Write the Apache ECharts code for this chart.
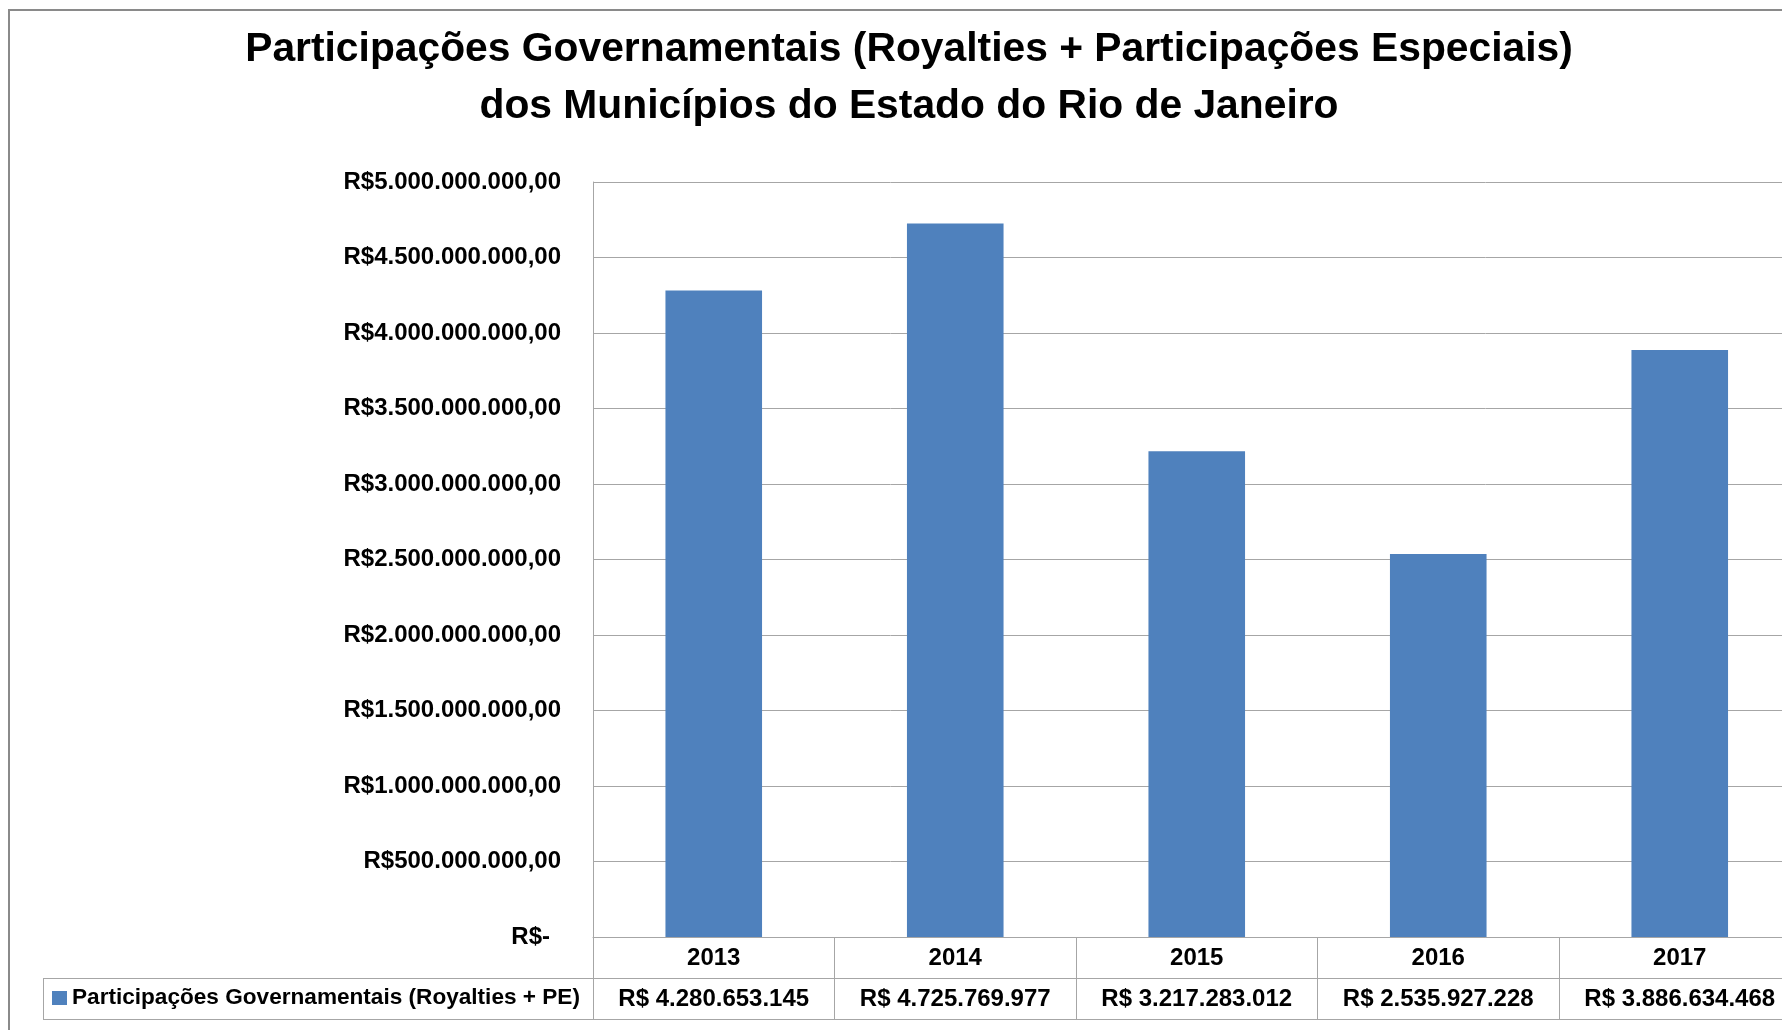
<!DOCTYPE html>
<html>
<head>
<meta charset="utf-8">
<script src="https://cdn.jsdelivr.net/npm/echarts@6/dist/echarts.min.js"></script>
<style>
  html, body { margin: 0; padding: 0; background: #fff; }
  #chart { width: 1782px; height: 1030px; }
</style>
</head>
<body>
<div id="chart"></div>
<script>
// Data
const titleLines = [
  'Participações Governamentais (Royalties + Participações Especiais)',
  'dos Municípios do Estado do Rio de Janeiro'
];
const seriesName = 'Participações Governamentais (Royalties + PE)';
const years = ['2013', '2014', '2015', '2016', '2017'];
const values = [4280653145, 4725769977, 3217283012, 2535927228, 3886634468];
const yMin = 0;
const yMax = 5000000000;
const yStep = 500000000;

// Layout
const FONT = "'Liberation Sans', Arial, sans-serif";
const GRID = { left: 593, top: 182, width: 1207.5, height: 755 };
const ROW = 41;            // height of each data-table row
const TABLE_LEFT = 43;     // left edge of the legend cell
const LINE = '#a6a6a6';
const BAR = '#4f81bd';

function groupThousands(n) {
  return String(Math.round(n)).replace(/\B(?=(\d{3})+(?!\d))/g, '.');
}
function yLabel(v) {
  if (v === 0) return '{z|R$-}';
  return 'R$' + groupThousands(v) + ',00';
}

const chart = echarts.init(document.getElementById('chart'));
const axisBottom = GRID.top + GRID.height;

chart.setOption({
  animation: false,
  backgroundColor: '#fff',
  title: {
    text: titleLines.join('\n'),
    left: 909,
    top: 21.5,
    padding: 0,
    textAlign: 'center',
    textStyle: { fontFamily: FONT, fontWeight: 'bold', fontSize: 40.8, lineHeight: 57, color: '#000' }
  },
  legend: {
    data: [seriesName],
    left: 52,
    top: axisBottom + ROW + ROW / 2 - 12,
    padding: 0,
    icon: 'rect',
    itemWidth: 15,
    itemHeight: 14,
    textStyle: { fontFamily: FONT, fontWeight: 'bold', fontSize: 22.6, color: '#000' }
  },
  grid: {
    left: GRID.left, top: GRID.top, width: GRID.width, height: GRID.height,
    containLabel: false,
    outerBoundsMode: 'none'
  },
  xAxis: [
    {
      type: 'category',
      data: years,
      position: 'bottom',
      axisLine: { show: true, lineStyle: { color: LINE, width: 1 } },
      axisTick: { show: true, interval: 0, length: ROW * 2, lineStyle: { color: LINE, width: 1 } },
      axisLabel: { interval: 0, margin: 9, fontFamily: FONT, fontWeight: 'bold', fontSize: 24, color: '#000' }
    },
    {
      type: 'category',
      data: years,
      position: 'bottom',
      offset: ROW,
      axisLine: { show: false },
      axisTick: { show: false },
      axisLabel: {
        interval: 0,
        margin: 9,
        fontFamily: FONT, fontWeight: 'bold', fontSize: 24, color: '#000',
        formatter: (val, idx) => 'R$ ' + groupThousands(values[idx])
      }
    }
  ],
  yAxis: {
    type: 'value',
    min: yMin,
    max: yMax,
    interval: yStep,
    axisLine: { show: true, lineStyle: { color: LINE, width: 1 } },
    axisTick: { show: false },
    splitLine: { show: true, lineStyle: { color: LINE, width: 1 } },
    axisLabel: {
      margin: 32,
      fontFamily: FONT, fontWeight: 'bold', fontSize: 24, color: '#000',
      formatter: yLabel,
      rich: { z: { fontFamily: FONT, fontWeight: 'bold', fontSize: 24, color: '#000', padding: [0, 11, 0, 0] } }
    }
  },
  series: [{
    name: seriesName,
    type: 'bar',
    xAxisIndex: 0,
    data: values,
    barWidth: '40%',
    itemStyle: { color: BAR }
  }],
  graphic: [
    // outer chart frame
    { type: 'rect', shape: { x: 9, y: 10, width: 1820, height: 1060 }, style: { fill: null, stroke: '#8a8a8a', lineWidth: 2 }, silent: true },
    // data table: row separator, bottom edge and left edge of the legend cell
    { type: 'line', shape: { x1: TABLE_LEFT, y1: axisBottom + ROW + 0.5, x2: 1800, y2: axisBottom + ROW + 0.5 }, style: { stroke: LINE, lineWidth: 1 }, silent: true },
    { type: 'line', shape: { x1: TABLE_LEFT, y1: axisBottom + 2 * ROW + 0.5, x2: 1800, y2: axisBottom + 2 * ROW + 0.5 }, style: { stroke: LINE, lineWidth: 1 }, silent: true },
    { type: 'line', shape: { x1: TABLE_LEFT + 0.5, y1: axisBottom + ROW, x2: TABLE_LEFT + 0.5, y2: axisBottom + 2 * ROW }, style: { stroke: LINE, lineWidth: 1 }, silent: true }
  ]
});
</script>
</body>
</html>
